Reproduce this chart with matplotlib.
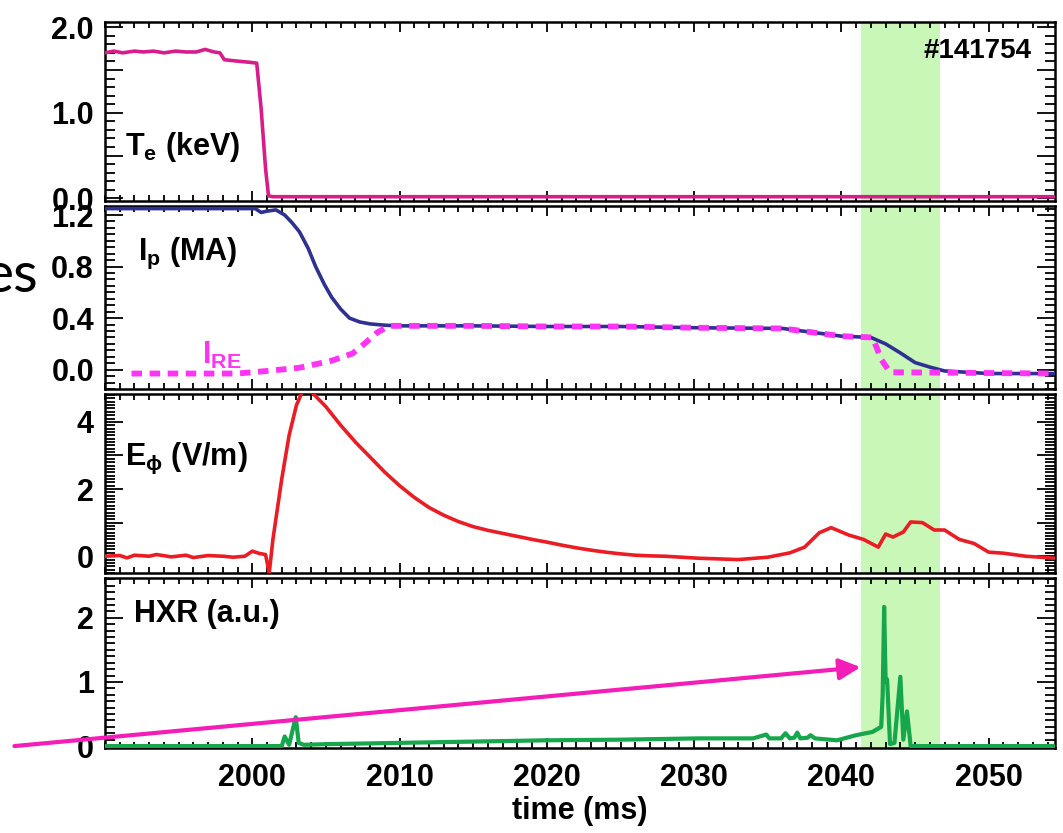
import matplotlib
matplotlib.use("Agg")
import matplotlib.pyplot as plt
from matplotlib.ticker import MultipleLocator, FixedLocator, FuncFormatter

# ---------------- data ----------------
# electron temperature (keV)
t_te = [1990.0, 1990.6, 1991.2, 1992.0, 1992.6, 1993.3, 1994.0, 1994.8, 1995.5,
        1996.2, 1996.8, 1997.4, 1997.8, 1998.1, 1998.6, 1999.2, 1999.8, 2000.3,
        2000.6, 2000.9, 2001.1, 2001.4, 2054.5]
te = [1.70, 1.72, 1.70, 1.72, 1.71, 1.72, 1.70, 1.72, 1.71,
      1.71, 1.74, 1.71, 1.70, 1.62, 1.61, 1.60, 1.59, 1.58,
      1.05, 0.35, 0.03, 0.02, 0.02]

# plasma current (MA)
t_ip = [1990.0, 1995.0, 2000.2, 2000.6, 2001.0, 2001.6, 2002.2, 2002.7, 2003.2,
        2003.8, 2004.3, 2004.9, 2005.4, 2006.0, 2006.6, 2007.3, 2008.0, 2009.0,
        2010.0, 2015.0, 2020.0, 2025.0, 2030.3, 2036.0, 2038.0, 2040.0, 2042.0,
        2043.0, 2044.0, 2045.0, 2046.0, 2047.0, 2050.0, 2054.5]
ip = [1.25, 1.25, 1.25, 1.22, 1.23, 1.24, 1.20, 1.14, 1.07,
      0.94, 0.80, 0.66, 0.56, 0.47, 0.40, 0.37, 0.355, 0.345,
      0.34, 0.34, 0.335, 0.335, 0.325, 0.32, 0.29, 0.26, 0.25,
      0.20, 0.13, 0.055, 0.02, -0.01, -0.03, -0.03]

# runaway electron current (MA)
t_re = [1991.8, 1995.0, 1999.0, 2001.0, 2003.2, 2005.4, 2006.8, 2007.5, 2008.5,
        2009.3, 2010.0, 2015.0, 2020.0, 2025.0, 2030.3, 2036.0, 2038.0, 2040.0,
        2042.1, 2042.4, 2042.7, 2043.3, 2054.5]
ire = [-0.03, -0.03, -0.03, -0.01, 0.015, 0.07, 0.125, 0.19, 0.29,
       0.34, 0.34, 0.34, 0.335, 0.335, 0.325, 0.32, 0.29, 0.26,
       0.25, 0.17, 0.08, -0.02, -0.03]

# toroidal electric field (V/m)
t_e = [1990.0, 1991.0, 1991.5, 1992.0, 1993.0, 1993.5, 1994.5, 1995.5, 1996.0,
       1997.0, 1998.0, 1998.7, 1999.5, 2000.0, 2000.5, 2000.9, 2001.15, 2001.4,
       2002.0, 2002.5, 2003.0, 2003.4, 2004.0, 2005.0, 2006.0, 2007.0, 2008.0,
       2009.0, 2010.0, 2011.0, 2012.0, 2013.0, 2014.0, 2015.0, 2016.0, 2017.0,
       2018.0, 2019.0, 2020.0, 2021.0, 2022.0, 2023.0, 2024.0, 2025.0, 2026.0,
       2027.0, 2028.0, 2030.3, 2033.0, 2035.0, 2036.5, 2037.5, 2038.5, 2039.3,
       2040.5, 2041.5, 2042.5, 2043.0, 2043.5, 2044.2, 2044.7, 2045.5, 2046.3,
       2047.0, 2048.0, 2049.0, 2050.0, 2051.0, 2052.5, 2054.5]
e_phi = [0.0, 0.02, -0.05, 0.03, 0.0, 0.05, -0.02, 0.03, -0.04,
         0.02, 0.0, -0.03, 0.0, 0.15, 0.08, 0.05, -0.5, 0.5,
         2.3, 3.6, 4.5, 4.9, 4.9, 4.45, 3.9, 3.4, 2.95,
         2.5, 2.1, 1.75, 1.45, 1.22, 1.03, 0.88, 0.77, 0.68,
         0.59, 0.5, 0.42, 0.33, 0.25, 0.18, 0.12, 0.07, 0.03,
         0.01, 0.0, -0.06, -0.1, -0.03, 0.1, 0.27, 0.7, 0.85,
         0.63, 0.5, 0.27, 0.66, 0.57, 0.72, 1.02, 1.0, 0.78,
         0.78, 0.5, 0.38, 0.12, 0.09, 0.0, -0.06]

# hard X-ray signal (a.u.)
t_hxr = [1990.0, 2002.0, 2002.2, 2002.5, 2002.95, 2003.15, 2003.5, 2005.0, 2010.0,
         2015.0, 2020.0, 2025.0, 2030.3, 2034.0, 2034.9, 2035.1, 2035.9, 2036.2,
         2036.5, 2036.8, 2037.0, 2037.2, 2037.7, 2037.9, 2038.2, 2039.7, 2041.0,
         2042.1, 2042.7, 2042.8, 2042.9, 2043.0, 2043.1, 2043.3, 2043.6, 2044.0,
         2044.2, 2044.45, 2044.7, 2054.5]
hxr = [0.0, 0.0, 0.15, 0.02, 0.45, 0.05, 0.02, 0.03, 0.05,
       0.07, 0.09, 0.10, 0.12, 0.12, 0.18, 0.12, 0.12, 0.2,
       0.12, 0.13, 0.21, 0.12, 0.13, 0.17, 0.12, 0.09, 0.17,
       0.22, 0.3, 0.8, 2.17, 1.0, 1.04, 0.03, 0.05, 1.08,
       0.1, 0.54, 0.0, 0.0]

time_ticks = [2000, 2010, 2020, 2030, 2040, 2050]
band = (2041.3, 2046.7)
shot = "#141754"

# ---------------- style ----------------
plt.rcParams["font.family"] = ["Liberation Sans", "DejaVu Sans"]
plt.rcParams["font.weight"] = "bold"
plt.rcParams["axes.labelweight"] = "bold"
plt.rcParams["mathtext.fontset"] = "custom"
plt.rcParams["mathtext.rm"] = "Liberation Sans:bold"
plt.rcParams["mathtext.it"] = "Liberation Sans:bold"
plt.rcParams["mathtext.bf"] = "Liberation Sans:bold"

FS = 22
C_TE = "#D81C8C"
C_IP = "#2E3192"
C_RE = "#FF33F5"
C_E = "#EC1C24"
C_HXR = "#16A64C"
C_BAND = "#C9F7B8"
C_ARROW = "#F51DB8"

W, H = 1063, 833
fig = plt.figure(figsize=(W / 100, H / 100), dpi=100)

# panel frames in pixels (top, bottom)
left_px, right_px = 105, 1055
frames = [(22, 201), (206, 389), (394, 573), (578, 748)]
axes = []
for top, bot in frames:
    ax = fig.add_axes([left_px / W, 1 - bot / H, (right_px - left_px) / W, (bot - top) / H])
    axes.append(ax)
ax1, ax2, ax3, ax4 = axes

for ax in axes:
    ax.set_xlim(1990, 2054.5)
    ax.axvspan(band[0], band[1], color=C_BAND, zorder=0, lw=0)
    ax.xaxis.set_major_locator(FixedLocator(time_ticks))
    ax.xaxis.set_minor_locator(MultipleLocator(1))
    ax.tick_params(axis="both", which="both", direction="in", top=True, right=True,
                   labelsize=FS, width=1.3)
    ax.tick_params(axis="x", which="major", length=7)
    ax.tick_params(axis="x", which="minor", length=4)
    ax.tick_params(axis="y", which="major", length=13, pad=8)
    ax.tick_params(axis="y", which="minor", length=7)
    for s in ax.spines.values():
        s.set_linewidth(1.8)
    if ax is not ax4:
        ax.tick_params(axis="x", labelbottom=False)

# ---- Te ----
ax1.plot(t_te, te, color=C_TE, lw=2.6, zorder=3)
ax1.set_ylim(-0.03, 2.06)
ax1.yaxis.set_major_locator(MultipleLocator(0.5))
ax1.yaxis.set_minor_locator(MultipleLocator(0.1))
ax1.yaxis.set_major_formatter(FuncFormatter(lambda v, p: "%.1f" % v if abs(v - round(v)) < 1e-6 else ""))
ax1.text(0.021, 0.30, r"$\mathrm{T_e}$ (keV)", transform=ax1.transAxes, fontsize=FS,
         va="center", ha="left")
ax1.text(0.975, 0.84, shot, transform=ax1.transAxes, fontsize=20, va="center", ha="right")

# ---- Ip and IRE ----
ax2.plot(t_ip, ip, color=C_IP, lw=2.6, zorder=3)
ax2.plot(t_re, ire, color=C_RE, lw=4.2, ls=(0, (1.8, 1.3)), zorder=4)
ax2.set_ylim(-0.15, 1.27)
ax2.yaxis.set_major_locator(MultipleLocator(0.4))
ax2.yaxis.set_minor_locator(MultipleLocator(0.05))
ax2.yaxis.set_major_formatter(FuncFormatter(lambda v, p: "%.1f" % v))
ax2.text(0.035, 0.74, r"$\mathrm{I_p}$ (MA)", transform=ax2.transAxes, fontsize=FS,
         va="center", ha="left")
ax2.text(1996.6, 0.11, r"$\mathrm{I_{RE}}$", color=C_RE, fontsize=FS, va="center", ha="left")

# ---- E_phi ----
ax3.plot(t_e, e_phi, color=C_E, lw=2.6, zorder=3)
ax3.set_ylim(-0.5, 4.83)
ax3.yaxis.set_major_locator(MultipleLocator(1))
ax3.yaxis.set_minor_locator(MultipleLocator(0.1))
ax3.yaxis.set_major_formatter(FuncFormatter(lambda v, p: "%d" % round(v) if round(v) % 2 == 0 else ""))
ax3.text(0.021, 0.64, r"$\mathrm{E_{\phi}}$ (V/m)", transform=ax3.transAxes, fontsize=FS,
         va="center", ha="left")

# ---- HXR ----
ax4.plot(t_hxr, hxr, color=C_HXR, lw=3.0, zorder=3)
ax4.set_ylim(-0.03, 2.62)
ax4.yaxis.set_major_locator(MultipleLocator(1))
ax4.yaxis.set_minor_locator(MultipleLocator(0.1))
ax4.yaxis.set_major_formatter(FuncFormatter(lambda v, p: "%d" % round(v)))
ax4.text(0.03, 0.79, "HXR (a.u.)", transform=ax4.transAxes, fontsize=FS,
         va="center", ha="left")
ax4.set_xlabel("time (ms)", fontsize=FS, labelpad=2)
ax4.tick_params(axis="x", which="major", pad=11)

# arrow pointing at the HXR burst
ax4.annotate("", xy=(2041.3, 1.23), xytext=(1983.85, 0.0), xycoords="data",
             textcoords="data", annotation_clip=False,
             arrowprops=dict(arrowstyle="-|>", color=C_ARROW, lw=3,
                             mutation_scale=32, shrinkA=0, shrinkB=0), zorder=6)

# partial slide word at the left edge
fig.text(38 / W, 1 - 292 / H, "es", fontsize=41, family="Lato", weight="normal",
         ha="right", va="baseline", color="black")

fig.savefig("out.png", dpi=100)
